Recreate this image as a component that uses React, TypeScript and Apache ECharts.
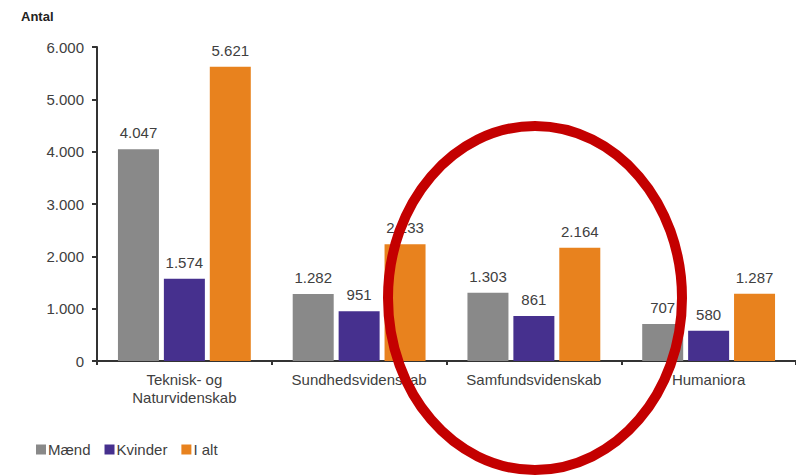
import React, { useEffect, useRef } from "react";
import * as echarts from "echarts";

const categories = ["Teknisk- og\nNaturvidenskab", "Sundhedsvidenskab", "Samfundsvidenskab", "Humaniora"];
const maend = [4047, 1282, 1303, 707];
const kvinder = [1574, 951, 861, 580];
const iAlt = [5621, 2233, 2164, 1287];
const seriesNames = ["Mænd", "Kvinder", "I alt"];
const colors = ["#898989", "#46308e", "#e8821e"];

const fmt = (v: number) => String(Math.round(v)).replace(/\B(?=(\d{3})+(?!\d))/g, ".");

export default function App() {
  const ref = useRef<HTMLDivElement>(null);
  useEffect(() => {
    if (!ref.current) return;
    const chart = echarts.init(ref.current, null, { renderer: "svg" });
    const font = "Liberation Sans, Arial, sans-serif";
    const labelCfg = {
      show: true,
      position: "top",
      distance: 9,
      fontSize: 15,
      fontFamily: font,
      color: "#404040",
      formatter: (p: any) => fmt(p.value),
    };
    const mk = (name: string, data: number[], color: string) => ({
      name,
      type: "bar",
      data,
      barWidth: 41,
      barGap: "12%",
      itemStyle: { color },
      label: labelCfg,
    });
    chart.setOption({
      animation: false,
      backgroundColor: "#ffffff",
      textStyle: { fontFamily: font },
      grid: { left: 97, top: 47, height: 314, width: 704, containLabel: false },
      legend: {
        left: 31,
        top: 437,
        itemWidth: 10,
        itemHeight: 10,
        itemGap: 14,
        icon: "rect",
        data: seriesNames,
        textStyle: { fontSize: 15, fontFamily: font, color: "#404040", padding: [0, 0, 0, -3] },
      },
      graphic: [
        {
          type: "text",
          left: 21,
          top: 10,
          style: { text: "Antal", fontSize: 13, fontWeight: "bold", fontFamily: font, fill: "#222" },
        },
        {
          type: "ellipse",
          z: 100,
          shape: { cx: 535, cy: 298, rx: 147, ry: 172 },
          style: { fill: "none", stroke: "#c40000", lineWidth: 10 },
        },
      ],
      xAxis: {
        type: "category",
        data: categories,
        axisLine: { lineStyle: { color: "#333", width: 2 } },
        axisTick: { show: true, length: 4, lineStyle: { color: "#333", width: 2 } },
        axisLabel: { fontSize: 15, fontFamily: font, color: "#404040", margin: 9, lineHeight: 18, interval: 0 },
      },
      yAxis: {
        type: "value",
        min: 0,
        max: 6000,
        interval: 1000,
        splitLine: { show: false },
        axisLine: { show: true, lineStyle: { color: "#333", width: 2 } },
        axisTick: { show: true, length: 5, lineStyle: { color: "#333", width: 2 } },
        axisLabel: { fontSize: 15, fontFamily: font, color: "#404040", margin: 13, formatter: (v: number) => fmt(v) },
      },
      series: [mk(seriesNames[0], maend, colors[0]), mk(seriesNames[1], kvinder, colors[1]), mk(seriesNames[2], iAlt, colors[2])],
    });
    return () => chart.dispose();
  }, []);
  return <div ref={ref} style={{ width: 796, height: 475, position: "absolute", left: 0, top: 0 }} />;
}
